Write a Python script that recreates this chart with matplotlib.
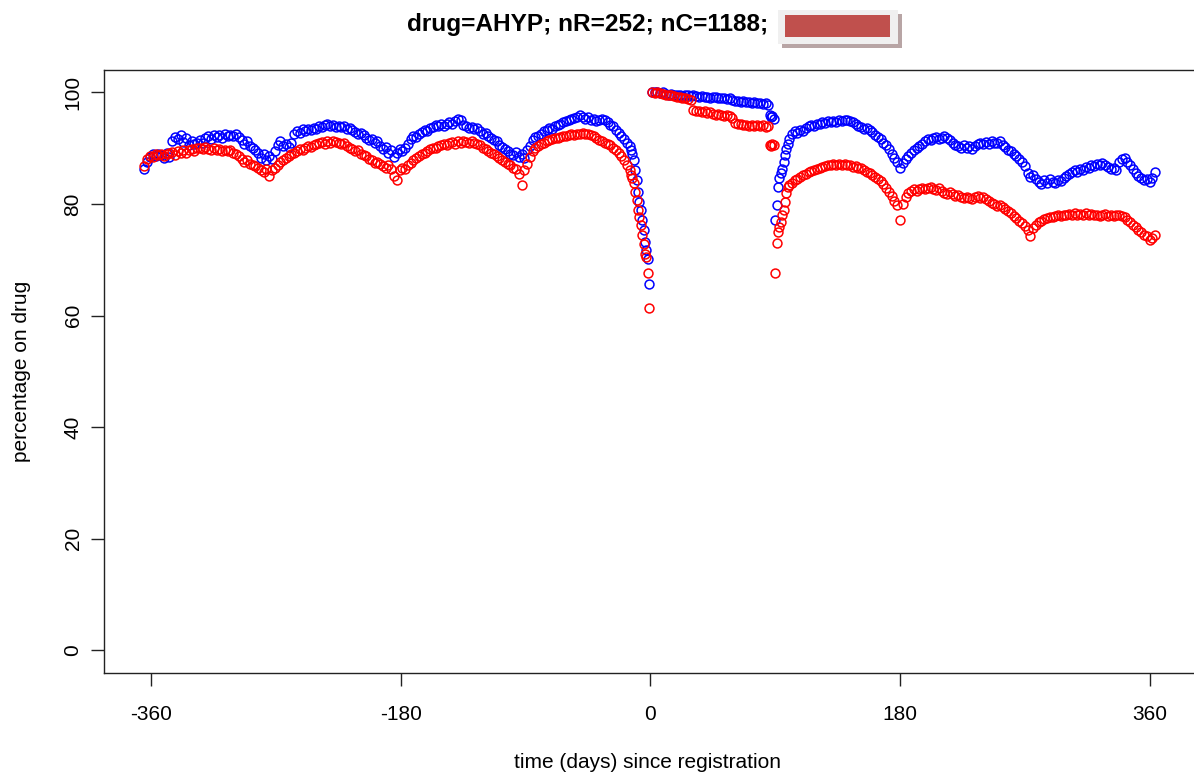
import matplotlib.pyplot as plt
import numpy as np
from matplotlib.patches import Rectangle

plt.rcParams["font.family"] = ["Liberation Sans", "DejaVu Sans"]
plt.rcParams["axes.unicode_minus"] = False

# days before registration: every 2nd day, then daily for the last two weeks
pre_days = np.r_[np.arange(-365, -14, 2), np.arange(-14, 0)]
# days after registration: every 2nd day, daily around the day-90 dip
post_days = np.r_[np.arange(1, 86, 2), np.arange(86, 101), np.arange(102, 365, 2)]

blue_pre = [
    86.3, 87.6, 88.4, 88.9, 88.6, 89.0, 88.7, 88.3, 89.1, 88.4,
    91.2, 92.0, 91.6, 92.4, 91.1, 91.8, 90.6, 91.3, 90.7, 91.0,
    91.4, 90.9, 91.8, 92.1, 91.6, 92.4, 92.0, 92.3, 91.9, 92.5,
    92.2, 92.4, 92.1, 92.6, 92.0, 91.4, 90.8, 91.2, 90.3, 90.0,
    89.6, 89.2, 88.3, 89.0, 87.8, 88.5, 88.0, 89.4, 90.6, 91.2,
    90.4, 90.8, 90.2, 91.0, 92.6, 93.0, 92.7, 93.4, 93.1, 93.5,
    93.2, 93.6, 93.4, 93.9, 93.7, 94.1, 94.3, 94.0, 94.2, 93.8,
    94.0, 93.7, 93.9, 93.5, 93.6, 93.2, 92.9, 92.6, 92.8, 92.3,
    91.9, 91.4, 91.6, 91.0, 91.2, 90.4, 89.8, 90.2, 89.2, 89.6,
    88.4, 89.1, 89.8, 89.4, 90.0, 90.8, 91.6, 92.2, 92.0, 92.6,
    92.9, 93.3, 93.0, 93.6, 93.8, 94.1, 93.9, 94.3, 94.0, 94.4,
    94.6, 94.3, 94.8, 95.3, 95.0, 94.2, 93.9, 93.6, 93.8, 93.4,
    93.6, 93.0, 92.6, 92.8, 92.2, 91.9, 91.5, 91.2, 90.6, 90.2,
    89.8, 89.5, 89.0, 88.8, 89.3, 88.4, 88.9, 88.2, 89.6, 90.4,
    91.5, 92.0, 92.2, 92.6, 93.0, 93.3, 93.6, 93.4, 94.0, 94.2,
    94.4, 94.6, 94.8, 95.0, 95.2, 95.4, 95.6, 95.9, 95.6, 95.3,
    95.5, 95.1, 95.2, 94.9, 95.0, 95.3, 95.0, 94.6, 94.2, 93.9,
    93.3, 92.7, 92.2, 91.7, 91.0, 90.4,
    89.6, 88.9, 87.8, 86.0, 84.3, 82.2, 80.4, 78.9, 77.1, 75.3, 73.2, 71.7, 70.2, 65.7,
]

red_pre = [
    86.8, 88.0, 88.6, 88.4, 88.9, 88.7, 89.0, 88.6, 88.9, 89.2,
    89.3, 88.8, 89.5, 89.1, 89.6, 89.2, 89.7, 89.9, 89.5, 90.0,
    90.1, 89.8, 90.2, 89.9, 89.7, 90.0, 89.6, 89.8, 89.5, 89.7,
    89.4, 89.6, 89.2, 88.9, 88.5, 88.0, 87.6, 87.8, 87.2, 87.0,
    86.8, 86.5, 86.1, 85.7, 86.2, 85.0, 86.0, 86.4, 86.9, 87.5,
    87.9, 88.3, 88.6, 88.9, 89.2, 89.5, 89.8, 89.6, 90.0, 90.3,
    90.2, 90.5, 90.7, 90.9, 91.1, 90.8, 91.2, 91.0, 91.3, 91.1,
    91.0, 90.7, 90.9, 90.4, 90.1, 89.8, 89.5, 89.6, 89.0, 88.7,
    88.5, 88.0, 87.8, 87.4, 87.6, 87.1, 86.8, 86.5, 86.9, 86.2,
    85.0, 84.2, 86.0, 86.5, 86.2, 86.9, 87.4, 87.8, 88.2, 88.5,
    88.9, 89.1, 89.5, 89.8, 90.1, 90.0, 90.4, 90.6, 90.8, 90.5,
    90.9, 91.1, 90.8, 91.2, 91.0, 91.3, 91.1, 90.9, 91.2, 91.0,
    90.8, 90.5, 90.1, 89.8, 89.5, 89.2, 88.9, 88.6, 88.2, 87.9,
    87.6, 87.2, 86.9, 86.5, 86.2, 85.3, 83.4, 86.0, 87.2, 88.4,
    89.5, 90.1, 90.4, 90.8, 91.0, 91.2, 91.4, 91.6, 91.8, 91.9,
    92.0, 92.1, 92.2, 92.3, 92.5, 92.4, 92.6, 92.5, 92.7, 92.6,
    92.5, 92.4, 92.2, 91.9, 91.5, 91.3, 91.0, 90.8, 90.5, 90.1,
    89.7, 89.2, 88.6, 87.8, 87.0, 86.0,
    85.2, 84.6, 83.7, 82.2, 80.7, 78.9, 77.7, 76.2, 74.4, 72.9, 71.1, 70.5, 67.7, 61.3,
]

blue_post = [
    100.0, 100.0, 100.0, 99.9, 100.0, 99.7, 99.6, 99.7, 99.5, 99.6,
    99.5, 99.4, 99.6, 99.5, 99.4, 99.5, 99.3, 99.2, 99.3, 99.1,
    99.2, 99.0, 99.1, 99.2, 98.9, 99.0, 98.9, 98.8, 99.0, 98.7,
    98.4, 98.5, 98.3, 98.4, 98.2, 98.3, 98.1, 98.2, 98.0, 98.1,
    97.9, 98.0, 97.8,
    96.0, 95.5, 95.8, 95.2, 77.1, 79.8, 83.1, 84.6, 85.5, 86.3, 87.5, 88.7, 89.9, 90.8, 91.7,
    92.6, 93.0, 92.8, 93.3, 93.1, 93.6, 93.9, 94.2, 94.0, 94.4,
    94.3, 94.6, 94.5, 94.8, 94.6, 94.9, 94.7, 95.0, 94.8, 95.1,
    95.0, 94.8, 94.6, 94.3, 94.0, 93.8, 93.5, 93.6, 93.2, 92.9,
    92.4, 92.0, 91.6, 91.0, 90.5, 89.8, 89.0, 88.3, 87.6, 86.4,
    87.4, 88.0, 88.6, 89.2, 89.6, 90.0, 90.3, 90.8, 91.2, 91.6,
    91.4, 91.8, 92.0, 91.6, 91.9, 92.2, 91.8, 91.5, 91.0, 90.6,
    90.4, 90.1, 90.5, 90.0, 90.3, 89.9, 90.4, 90.8, 91.0, 90.7,
    91.1, 90.8, 91.3, 91.0, 90.9, 91.2, 90.6, 90.2, 89.7, 89.4,
    88.9, 88.5, 88.0, 87.6, 86.8, 85.5, 84.8, 85.2, 84.4, 84.0,
    83.6, 84.2, 83.8, 84.5, 84.0, 83.7, 84.3, 84.1, 84.6, 85.0,
    85.4, 85.8, 86.0, 85.7, 86.3, 86.1, 86.6, 86.4, 87.0, 86.8,
    87.2, 86.9, 87.4, 87.0, 86.6, 86.2, 86.5, 86.0, 87.5, 88.0,
    88.3, 87.6, 86.9, 86.2, 85.6, 85.0, 84.6, 84.2, 84.5, 83.9,
    84.6, 85.8,
]

red_post = [
    100.0, 99.9, 100.0, 99.8, 99.7, 99.6, 99.5, 99.6, 99.3, 99.2,
    99.1, 99.0, 98.9, 98.8, 98.7, 96.8, 96.6, 96.7, 96.5, 96.6,
    96.3, 96.4, 96.2, 96.0, 96.1, 95.9, 95.8, 96.0, 95.7, 95.4,
    94.5, 94.4, 94.3, 94.1, 94.2, 94.0, 94.2, 93.9, 94.1, 94.0,
    94.2, 93.8, 94.0,
    90.6, 90.3, 90.8, 90.5, 67.7, 73.0, 75.0, 75.9, 76.8, 78.0, 78.9, 80.4, 82.0, 83.1, 83.4,
    83.8, 84.2, 84.5, 84.9, 85.2, 85.4, 85.7, 85.9, 86.1, 86.3,
    86.5, 86.6, 86.8, 86.9, 87.0, 87.1, 86.9, 87.2, 87.0, 87.1,
    86.9, 87.0, 86.7, 86.8, 86.5, 86.4, 86.1, 85.8, 85.5, 85.2,
    84.9, 84.5, 84.1, 83.6, 82.9, 82.2, 81.5, 80.6, 79.8, 77.1,
    80.0, 81.2, 82.0, 82.4, 82.6, 82.3, 82.7, 82.9, 82.6, 82.8,
    83.0, 82.7, 82.5, 82.8, 82.3, 82.0, 81.8, 82.1, 81.7, 81.5,
    81.6, 81.2, 81.0, 81.3, 81.1, 80.9, 81.2, 81.4, 81.0, 81.3,
    80.9, 80.5, 80.2, 80.0, 79.7, 79.8, 79.4, 79.1, 78.8, 78.3,
    77.9, 77.5, 77.0, 76.6, 76.0, 75.3, 74.2, 75.6, 76.3, 76.8,
    77.0, 77.3, 77.5, 77.7, 77.6, 77.9, 78.0, 77.8, 78.1, 78.0,
    78.2, 78.0, 78.3, 78.1, 78.2, 78.0, 78.3, 78.1, 78.2, 78.0,
    78.1, 77.9, 78.0, 78.2, 77.8, 78.0, 77.9, 78.1, 78.0, 77.8,
    77.6, 77.2, 76.8, 76.3, 75.8, 75.3, 74.9, 74.5, 74.2, 73.6,
    73.9, 74.5,
]

x_ticks = [-360, -180, 0, 180, 360]
y_ticks = [0, 20, 40, 60, 80, 100]

days = np.r_[pre_days, post_days]
blue = np.r_[blue_pre, blue_post]
red = np.r_[red_pre, red_post]

W, H = 1194, 782
fig = plt.figure(figsize=(W / 100, H / 100), dpi=100)
ax = fig.add_axes([104 / W, 1 - 672.7 / H, (1197 - 104) / W, (672.7 - 70) / H])

ax.plot(days, blue, linestyle="none", marker="o", mfc="none", mec="blue", ms=6.4, mew=1.1)
ax.plot(days, red, linestyle="none", marker="o", mfc="none", mec="red", ms=6.4, mew=1.1)

ax.set_xlim(-394.2, 394.2)
ax.set_ylim(-4, 104)
ax.set_xticks(x_ticks)
ax.set_yticks(y_ticks)
ax.tick_params(direction="out", length=9.4, width=1, labelsize=15, color="#222222")
ax.tick_params(axis="x", pad=14)
ax.tick_params(axis="y", pad=6)
for lab in ax.get_yticklabels():
    lab.set_rotation(90)
    lab.set_va("center")
for sp in ax.spines.values():
    sp.set_linewidth(1.0)
    sp.set_color("#222222")

fig.text(647 / W, 1 - 763 / H, "time (days) since registration", ha="center", va="center", fontsize=15)
fig.text(22 / W, 1 - 371 / H, "percentage on drug", ha="center", va="center", rotation=90, fontsize=15)

# title with redacted tail
fig.text(407 / W, 1 - 25 / H, "drug=AHYP; nR=252; nC=1188;", ha="left", va="center",
         fontsize=17.6, fontweight="bold")
for x0, y0, x1, y1, col in [
    (782, 14, 902, 48, "#b8a5a5"),
    (778, 10, 898, 44, "#f0f0f0"),
    (785, 15, 890, 37, "#c0504d"),
]:
    fig.add_artist(Rectangle((x0 / W, 1 - y1 / H), (x1 - x0) / W, (y1 - y0) / H,
                             transform=fig.transFigure, facecolor=col, edgecolor="none"))

fig.savefig("out.png", dpi=100, facecolor="white")
